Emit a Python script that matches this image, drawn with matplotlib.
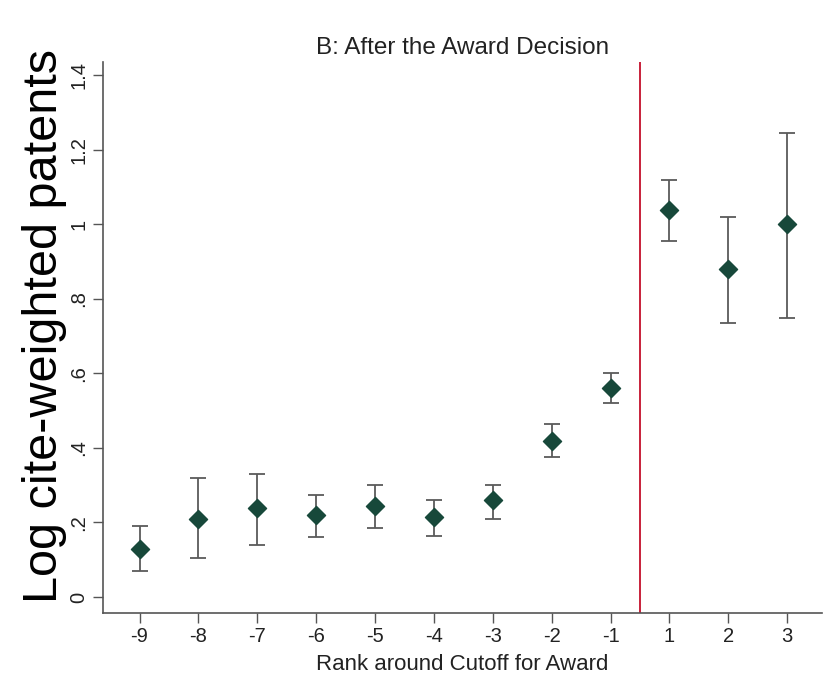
import matplotlib
matplotlib.use("Agg")
import matplotlib.pyplot as plt

ranks = ["-9", "-8", "-7", "-6", "-5", "-4", "-3", "-2", "-1", "1", "2", "3"]
estimate = [0.13, 0.21, 0.24, 0.22, 0.245, 0.215, 0.26, 0.42, 0.56, 1.04, 0.88, 1.00]
ci_low = [0.07, 0.105, 0.14, 0.16, 0.185, 0.165, 0.21, 0.375, 0.52, 0.955, 0.735, 0.75]
ci_high = [0.19, 0.32, 0.33, 0.275, 0.30, 0.26, 0.30, 0.465, 0.60, 1.12, 1.02, 1.245]
yticks = [0, 0.2, 0.4, 0.6, 0.8, 1.0, 1.2, 1.4]
ytick_labels = ["0", ".2", ".4", ".6", ".8", "1", "1.2", "1.4"]
cutoff = 9.5

plt.rcParams['font.family'] = ['Liberation Sans', 'DejaVu Sans']
fig = plt.figure(figsize=(8.24, 6.75), dpi=100)
ax = fig.add_axes([103/824, 62/675, 719/824, 551/675])

xs = list(range(1, len(ranks) + 1))
lo = [e - l for e, l in zip(estimate, ci_low)]
hi = [h - e for e, h in zip(estimate, ci_high)]
ax.errorbar(xs, estimate, yerr=[lo, hi], fmt='none', ecolor='#5a5a5a',
            elinewidth=1.3, capsize=6, capthick=1.3, zorder=2)
ax.scatter(xs, estimate, marker='D', s=85, color='#17483a', zorder=3)
ax.axvline(cutoff, color='#c8203a', lw=1.4, zorder=1)

ax.set_xlim(0.38, 12.59)
ax.set_ylim(-0.043, 1.436)
ax.set_xticks(xs)
ax.set_xticklabels(ranks, fontsize=14.5)
ax.set_yticks(yticks)
ax.set_yticklabels(ytick_labels, fontsize=14.5, rotation=90, va='center')
ax.tick_params(axis='both', direction='out', length=7, width=1, color='#555555',
               labelcolor='#222222')
ax.tick_params(axis='x', pad=3)
for s in ['top', 'right']:
    ax.spines[s].set_visible(False)
for s in ['left', 'bottom']:
    ax.spines[s].set_color('#555555')
    ax.spines[s].set_linewidth(1.2)

ax.set_xlabel("Rank around Cutoff for Award", fontsize=16, color='#222222', labelpad=6)
ax.set_ylabel("Log cite-weighted patents", fontsize=35, color='black')
ax.yaxis.set_label_coords(-0.05, 0.52)
ax.set_title("B: After the Award Decision", fontsize=17.5, color='#222222', pad=6)

fig.savefig("out.png", dpi=100)
